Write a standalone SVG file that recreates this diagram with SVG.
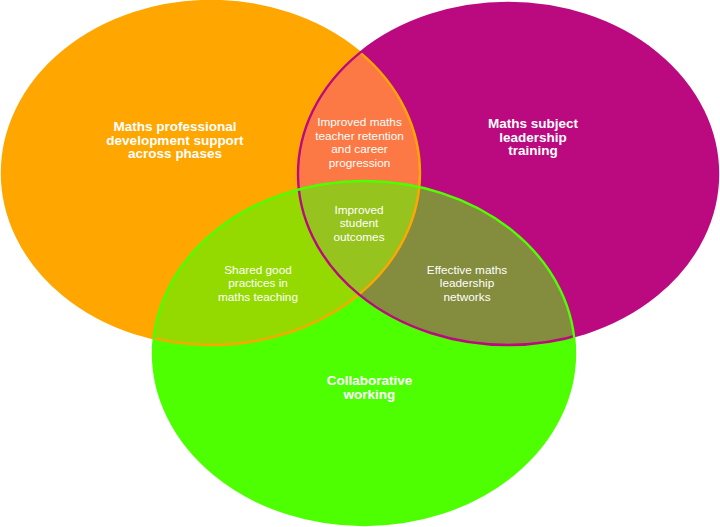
<svg xmlns="http://www.w3.org/2000/svg" width="720" height="527" viewBox="0 0 720 527">
<style>
.lbl{font-family:"Liberation Sans",Arial,sans-serif;fill:#ffffff;text-anchor:middle}
.main{font-size:13.5px;font-weight:bold}
.sub{font-size:11.8px}
.edge{fill:none;stroke-width:2.4}
</style>
<defs>
<clipPath id="clipO"><ellipse cx="211" cy="173" rx="209" ry="172"/></clipPath>
<clipPath id="clipM"><ellipse cx="508" cy="174" rx="210" ry="171"/></clipPath>
<clipPath id="clipG"><ellipse cx="364" cy="353" rx="211" ry="172"/></clipPath>
</defs>
<rect width="720" height="527" fill="#ffffff"/>
<g id="orange">
<ellipse cx="211" cy="173" rx="209" ry="172" fill="#FFA600"/>
<text class="lbl main"><tspan x="175" y="131">Maths professional</tspan><tspan x="175" y="144.5">development support</tspan><tspan x="175" y="158">across phases</tspan></text>
</g>
<g id="magenta">
<ellipse cx="508" cy="174" rx="210" ry="171" fill="#BB0A80"/>
<text class="lbl main"><tspan x="533" y="128">Maths subject</tspan><tspan x="533" y="141.5">leadership</tspan><tspan x="533" y="155">training</tspan></text>
</g>
<g id="green">
<ellipse cx="364" cy="353" rx="211" ry="172" fill="#4DFF00"/>
<text class="lbl main"><tspan x="369.5" y="385">Collaborative</tspan><tspan x="369.5" y="398.5">working</tspan></text>
</g>
<g id="orange-magenta">
<ellipse cx="508" cy="174" rx="210" ry="171" fill="#FC7945" clip-path="url(#clipO)"/>
<text class="lbl sub"><tspan x="359.5" y="126">Improved maths</tspan><tspan x="359.5" y="139.5">teacher retention</tspan><tspan x="359.5" y="153">and career</tspan><tspan x="359.5" y="166.5">progression</tspan></text>
</g>
<g id="orange-green">
<ellipse cx="364" cy="353" rx="211" ry="172" fill="#94DA00" clip-path="url(#clipO)"/>
<text class="lbl sub"><tspan x="258" y="273.5">Shared good</tspan><tspan x="258" y="287.3">practices in</tspan><tspan x="258" y="301">maths teaching</tspan></text>
</g>
<g id="magenta-green">
<ellipse cx="364" cy="353" rx="211" ry="172" fill="#848C3D" clip-path="url(#clipM)"/>
<text class="lbl sub"><tspan x="467" y="273.5">Effective maths</tspan><tspan x="467" y="287.3">leadership</tspan><tspan x="467" y="301">networks</tspan></text>
</g>
<g id="all-three">
<g clip-path="url(#clipO)"><ellipse cx="364" cy="353" rx="211" ry="172" fill="#97C31E" clip-path="url(#clipM)"/></g>
<text class="lbl sub"><tspan x="359" y="213.5">Improved</tspan><tspan x="359" y="227.3">student</tspan><tspan x="359" y="241">outcomes</tspan></text>
</g>
<g id="outlines">
<ellipse class="edge" cx="211" cy="173" rx="209" ry="172" stroke="#FFA600"/>
<ellipse class="edge" cx="508" cy="174" rx="210" ry="171" stroke="#BB0A80"/>
<ellipse class="edge" cx="364" cy="353" rx="211" ry="172" stroke="#4DFF00"/>
</g>
</svg>
